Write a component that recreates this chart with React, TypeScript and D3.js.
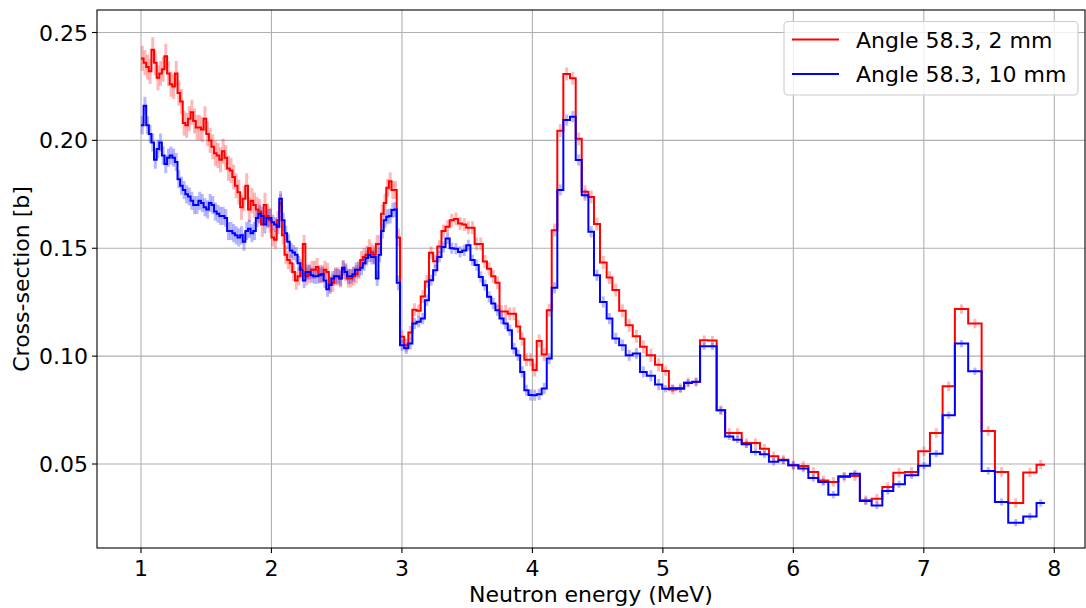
import React from 'react';
import * as d3 from 'd3';

// Bin edges (MeV)
const edgesA = [1.00,1.02,1.04,1.06,1.08,1.10,1.12,1.14,1.16,1.18,1.20,1.22,1.24,1.26,1.28,1.30,1.32,1.34,1.36,1.38,1.40,1.42,1.44,1.46,1.48,1.50,1.52,1.54,1.56,1.58,1.60,1.62,1.64,1.66,1.68,1.70,1.72,1.74,1.76,1.78,1.80,1.82,1.84,1.86,1.88,1.90,1.92,1.94,1.96,1.98,2.00,2.02,2.04,2.06,2.08,2.10,2.12,2.14,2.16,2.18,2.20,2.22,2.24,2.26,2.28,2.30,2.32,2.34,2.36,2.38,2.40,2.42,2.44,2.46,2.48,2.50,2.52,2.54,2.56,2.58,2.60,2.62,2.64,2.66,2.68,2.70,2.72,2.74,2.76,2.78,2.80,2.82,2.84,2.86,2.88,2.90,2.92,2.94,2.96,2.985];
const edgesB = [3.017,3.049,3.080,3.112,3.144,3.176,3.207,3.239,3.271,3.303,3.334,3.366,3.398,3.430,3.462,3.493,3.525,3.557,3.589,3.620,3.652,3.684,3.716,3.748,3.779,3.811,3.843,3.875,3.906,3.938,3.970,4.002,4.033];
const edgesC = [4.071,4.11,4.148,4.191,4.237,4.288,4.332,4.378,4.429,4.472,4.518,4.569,4.613,4.665,4.715,4.769,4.825,4.876,4.94,4.995,5.046];
const edgesD = [5.105,5.163,5.224,5.285,5.348,5.412,5.477,5.54,5.604,5.676,5.744,5.813,5.885,5.961,6.038,6.115,6.191,6.268,6.345,6.434];
const edgesE = [6.51,6.60,6.682,6.766,6.855,6.957,7.047,7.144,7.238,7.34,7.443,7.545,7.647,7.762,7.864,7.928];

// Cross-section, Angle 58.3, 2 mm
const red2mmA = [0.238,0.236,0.234,0.232,0.242,0.236,0.229,0.231,0.233,0.239,
  0.231,0.226,0.225,0.231,0.222,0.218,0.208,0.207,0.210,0.213,
  0.209,0.206,0.206,0.205,0.210,0.203,0.200,0.197,0.194,0.193,
  0.191,0.195,0.192,0.187,0.186,0.183,0.179,0.176,0.169,0.173,
  0.179,0.168,0.172,0.170,0.168,0.167,0.161,0.170,0.165,0.163,
  0.155,0.154,0.163,0.171,0.156,0.147,0.1445,0.143,0.139,0.135,
  0.137,0.141,0.152,0.137,0.138,0.140,0.140,0.1413,0.138,0.138,
  0.140,0.139,0.133,0.134,0.137,0.137,0.136,0.140,0.139,0.136,
  0.136,0.137,0.138,0.140,0.1445,0.146,0.147,0.150,0.148,0.147,
  0.152,0.152,0.166,0.171,0.178,0.181,0.177,0.177,0.155];
const red2mmB = [0.109,0.105,0.111,0.1215,0.121,0.1276,0.1346,0.1479,0.144,0.1508,0.158,0.160,0.163,0.1636,0.1615,0.161,0.1595,0.1595,0.152,0.152,0.1439,0.1405,0.137,0.134,0.1207,0.1207,0.1196,0.1196,0.1137,0.108,0.0983,0.0983,0.0936];
const red2mmC = [0.107,0.1007,0.1213,0.1584,0.2045,0.2308,0.2288,0.2007,0.1762,0.1738,0.1612,0.1434,0.1364,0.1306,0.121,0.1143,0.1092,0.1043,0.1004,0.0960,0.0931];
const red2mmD = [0.0845,0.0852,0.0878,0.088,0.1074,0.1072,0.0749,0.0644,0.0644,0.0597,0.0597,0.0571,0.0536,0.0520,0.0494,0.0491,0.0463,0.0424,0.0417,0.0440];
const red2mmE = [0.0444,0.0332,0.0339,0.0393,0.0460,0.0463,0.0559,0.0644,0.0860,0.1218,0.1151,0.0653,0.0463,0.0319,0.0461,0.0497];

// Cross-section, Angle 58.3, 10 mm
const blue10mmA = [0.207,0.216,0.207,0.203,0.199,0.191,0.196,0.199,0.193,0.189,
  0.192,0.193,0.192,0.190,0.182,0.179,0.177,0.175,0.174,0.172,
  0.170,0.170,0.172,0.171,0.169,0.168,0.171,0.170,0.167,0.166,
  0.165,0.165,0.164,0.158,0.158,0.157,0.156,0.155,0.156,0.153,
  0.158,0.159,0.157,0.158,0.164,0.166,0.165,0.161,0.164,0.164,
  0.162,0.161,0.160,0.173,0.163,0.157,0.153,0.149,0.148,0.147,
  0.143,0.140,0.135,0.139,0.139,0.1375,0.137,0.137,0.1375,0.138,
  0.135,0.131,0.133,0.136,0.137,0.137,0.136,0.141,0.139,0.137,
  0.137,0.138,0.140,0.140,0.141,0.143,0.1455,0.147,0.146,0.146,
  0.136,0.147,0.158,0.163,0.1646,0.165,0.1677,0.168,0.134];
const blue10mmB = [0.1051,0.1036,0.1058,0.1151,0.1159,0.1174,0.1259,0.1352,0.1398,0.146,0.1506,0.1545,0.150,0.1498,0.1483,0.149,0.1514,0.1445,0.1422,0.1367,0.1329,0.1275,0.1244,0.1213,0.1174,0.1151,0.1120,0.1035,0.1004,0.0927,0.0842,0.082,0.0819];
const blue10mmC = [0.0823,0.085,0.0989,0.1317,0.177,0.2094,0.211,0.1909,0.1746,0.1576,0.1375,0.1251,0.1174,0.1082,0.1051,0.1004,0.1012,0.0927,0.0909,0.0868,0.0849];
const blue10mmD = [0.0851,0.0849,0.0876,0.0881,0.1046,0.1046,0.0749,0.0628,0.0613,0.0591,0.0556,0.0545,0.0510,0.0517,0.0494,0.0479,0.0435,0.0417,0.0358,0.0443];
const blue10mmE = [0.0455,0.0329,0.0308,0.0375,0.0406,0.0448,0.0492,0.0548,0.0726,0.1058,0.0930,0.0468,0.0324,0.0228,0.0257,0.0319];

// Error bar half-lengths by energy band
const errBands = [
  { from: 0, to: 2, red: 0.0058, blue: 0.0042 },
  { from: 2, to: 3, red: 0.0042, blue: 0.0035 },
  { from: 3, to: 5, red: 0.003, blue: 0.0026 },
  { from: 5, to: 9, red: 0.0022, blue: 0.0017 },
];

const xTicks = [1, 2, 3, 4, 5, 6, 7, 8];
const yTicks = [0.05, 0.10, 0.15, 0.20, 0.25];
const yTickLabels = ['0.05', '0.10', '0.15', '0.20', '0.25'];
const legendLabels = ['Angle 58.3, 2 mm', 'Angle 58.3, 10 mm'];
const seriesColors = ['#ff0000', '#0000ff'];

const energyEdges = [...edgesA, ...edgesB, ...edgesC, ...edgesD, ...edgesE];
const xs2mm = [...red2mmA, ...red2mmB, ...red2mmC, ...red2mmD, ...red2mmE];
const xs10mm = [...blue10mmA, ...blue10mmB, ...blue10mmC, ...blue10mmD, ...blue10mmE];

const W = 1086, H = 608;
const L = 97, R = 1085, T = 10, B = 548;
const FONT = 'DejaVu Sans, Liberation Sans, sans-serif';

export default function App() {
  const x = d3.scaleLinear().domain([0.6628, 8.2354]).range([L, R]);
  const y = d3.scaleLinear().domain([0.01107, 0.26043]).range([B, T]);

  const buildPath = (vals: number[]) => {
    const n = Math.min(vals.length, energyEdges.length - 1);
    const pts: [number, number][] = [];
    for (let i = 0; i < n; i++) pts.push([energyEdges[i], vals[i]]);
    pts.push([energyEdges[n], vals[n - 1]]);
    const line = d3.line<[number, number]>()
      .x(d => x(d[0]))
      .y(d => y(d[1]))
      .curve(d3.curveStepAfter);
    return line(pts) || '';
  };

  const errFor = (e: number, key: 'red' | 'blue') => {
    const b = errBands.find(b => e >= b.from && e < b.to);
    return b ? b[key] : 0.002;
  };

  const errBars = (vals: number[], key: 'red' | 'blue', color: string) => {
    const n = Math.min(vals.length, energyEdges.length - 1);
    const out: JSX.Element[] = [];
    for (let i = 0; i < n; i++) {
      const c = (energyEdges[i] + energyEdges[i + 1]) / 2;
      const err = errFor(c, key);
      out.push(
        <line key={key + i} x1={x(c)} x2={x(c)} y1={y(vals[i] - err)} y2={y(vals[i] + err)}
          stroke={color} strokeWidth={3} strokeOpacity={0.28} />
      );
    }
    return out;
  };

  const series = [xs2mm, xs10mm];

  return (
    <div style={{ position: 'absolute', left: 0, top: 0 }}>
      <svg width={W} height={H} style={{ display: 'block', background: '#fff' }} fontFamily={FONT}>
        <rect x={0} y={0} width={W} height={H} fill="#fff" />
        {/* grid */}
        {xTicks.map(t => (
          <line key={'gx' + t} x1={x(t)} x2={x(t)} y1={T} y2={B} stroke="#b0b0b0" strokeWidth={1.1} />
        ))}
        {yTicks.map(t => (
          <line key={'gy' + t} x1={L} x2={R} y1={y(t)} y2={y(t)} stroke="#b0b0b0" strokeWidth={1.1} />
        ))}
        {/* error bars */}
        {errBars(xs2mm, 'red', seriesColors[0])}
        {errBars(xs10mm, 'blue', seriesColors[1])}
        {/* step lines */}
        {series.map((s, i) => (
          <path key={'s' + i} d={buildPath(s)} fill="none" stroke={seriesColors[i]} strokeWidth={2} strokeLinejoin="miter" />
        ))}
        {/* frame */}
        <rect x={L} y={T} width={R - L} height={B - T} fill="none" stroke="#000" strokeWidth={1.1} />
        {/* x ticks */}
        {xTicks.map(t => (
          <g key={'xt' + t}>
            <line x1={x(t)} x2={x(t)} y1={B} y2={B + 5} stroke="#000" strokeWidth={1.1} />
            <text x={x(t)} y={576} textAnchor="middle" fontSize={22} fill="#000">{t}</text>
          </g>
        ))}
        {/* y ticks */}
        {yTicks.map((t, i) => (
          <g key={'yt' + t}>
            <line x1={L - 5} x2={L} y1={y(t)} y2={y(t)} stroke="#000" strokeWidth={1.1} />
            <text x={88} y={y(t) + 8} textAnchor="end" fontSize={22} fill="#000">{yTickLabels[i]}</text>
          </g>
        ))}
        {/* axis labels */}
        <text x={(L + R) / 2} y={602} textAnchor="middle" fontSize={22} fill="#000">Neutron energy (MeV)</text>
        <text transform={`translate(29,${(T + B) / 2}) rotate(-90)`} textAnchor="middle" fontSize={22} fill="#000">Cross-section [b]</text>
        {/* legend */}
        <rect x={784} y={21.5} width={294} height={73.5} rx={4} ry={4} fill="#fff" fillOpacity={0.8} stroke="#cccccc" strokeWidth={1.1} />
        {legendLabels.map((lab, i) => (
          <g key={'lg' + i}>
            <line x1={792} x2={839} y1={39.5 + i * 34.5} y2={39.5 + i * 34.5} stroke={seriesColors[i]} strokeWidth={2} />
            <text x={856} y={47.5 + i * 34.5} fontSize={22} fill="#000">{lab}</text>
          </g>
        ))}
      </svg>
    </div>
  );
}
